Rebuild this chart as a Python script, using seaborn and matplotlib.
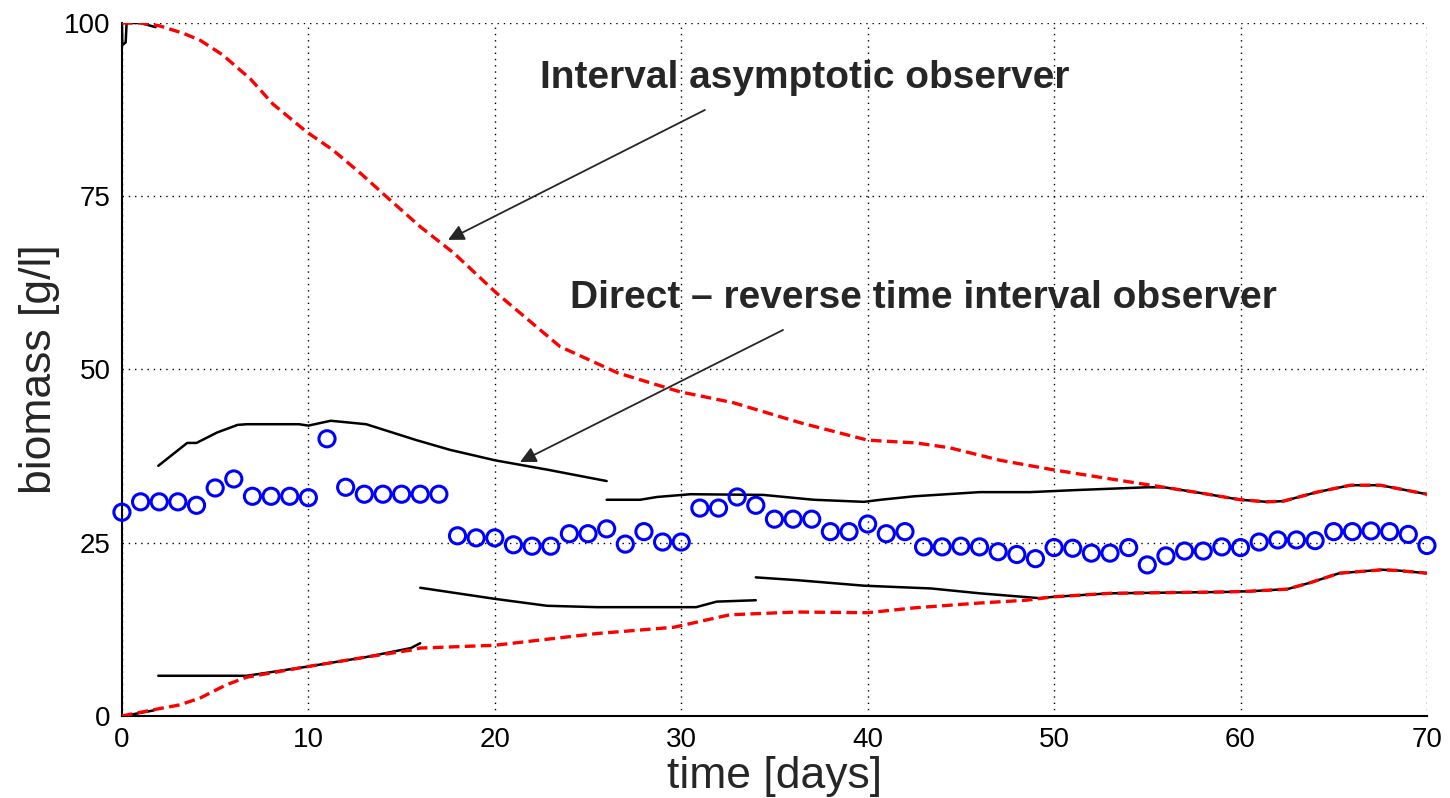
import numpy as np
import matplotlib
matplotlib.use('Agg')
import matplotlib.pyplot as plt
import seaborn as sns

# measured biomass (one sample per day)
days = np.arange(0, 71)
measured = [29.4, 30.9, 30.9, 30.9, 30.4, 32.9, 34.2, 31.7, 31.7, 31.7, 31.5,
            40.0, 33.0, 32.0, 32.0, 32.0, 32.0, 32.0, 26.0, 25.7, 25.7, 24.7,
            24.5, 24.5, 26.3, 26.3, 27.0, 24.8, 26.6, 25.1, 25.1, 30.0, 30.0,
            31.6, 30.4, 28.4, 28.4, 28.4, 26.6, 26.6, 27.7, 26.3, 26.6, 24.4,
            24.4, 24.5, 24.4, 23.7, 23.3, 22.7, 24.3, 24.2, 23.5, 23.5, 24.3,
            21.8, 23.1, 23.8, 23.8, 24.4, 24.3, 25.1, 25.4, 25.4, 25.3, 26.6,
            26.6, 26.7, 26.6, 26.2, 24.6]

# interval asymptotic observer (red dashed)
asym_up_t = [0, 1, 2, 3.3, 4.2, 5.4, 6.9, 8.1, 9.9, 11.3, 12.8, 14.2, 16.0, 17.8,
             20.1, 23.5, 26.6, 29.9, 32.8, 36.4, 40.0, 42.6, 44.4, 47.1, 50,
             52.8, 55.9, 57.8, 60, 61.4, 62.3, 64.1, 65.9, 67.5, 70]
asym_up = [100, 100, 99.6, 98.5, 97.5, 95.4, 91.9, 88.3, 84.3, 81.7, 78.3, 74.9,
           70.6, 66.8, 61.0, 53.3, 49.5, 46.8, 45.2, 42.3, 39.8, 39.4, 38.7,
           36.9, 35.5, 34.3, 33.0, 32.2, 31.2, 30.9, 31.0, 32.3, 33.3, 33.3, 32.0]
asym_lo_t = [0, 1.7, 3.1, 4.2, 5.6, 6.7, 9.9, 13.1, 15.5, 16, 20, 22.9, 25.5,
             29.6, 32.6, 36.2, 40.0, 42.5, 46.0, 48.5, 50, 53, 59.3, 60.5, 62.5,
             63.7, 65.3, 67.6, 68.4, 70]
asym_lo = [0, 0.9, 1.6, 2.6, 4.5, 5.6, 7.1, 8.5, 9.5, 9.8, 10.2, 11.1, 11.9, 12.8,
           14.6, 15.0, 14.9, 15.6, 16.3, 16.7, 17.2, 17.7, 17.9, 18.0, 18.3,
           19.2, 20.6, 21.1, 21.0, 20.6]

# direct - reverse time interval observer (black, piecewise)
dr_up = [
    ([0, 0.02, 0.2, 0.25, 1.0, 1.8], [100, 96.8, 97.2, 100, 100, 99.4]),
    ([1.95, 3.5, 4.0, 5.1, 6.2, 6.7, 9.5, 10, 11.2, 13.1, 15.8, 17.6, 20, 22.9, 26.0],
     [36.1, 39.4, 39.4, 40.9, 42.0, 42.1, 42.1, 41.9, 42.6, 42.1, 39.8, 38.4, 36.9, 35.5, 33.9]),
    ([26.0, 27.8, 28.7, 30.5, 34.4, 37.1, 39.8, 40.7, 42.5, 46.0, 48.7, 51.2, 55.0,
      55.9, 57.8, 60, 61.4, 62.3, 64.1, 65.9, 67.5, 70],
     [31.2, 31.2, 31.6, 32.0, 31.9, 31.2, 30.9, 31.2, 31.7, 32.3, 32.3, 32.6, 33.0,
      33.0, 32.2, 31.2, 30.9, 31.0, 32.3, 33.3, 33.3, 32.0]),
]
dr_lo = [
    ([0.5, 1.7], [0.2, 0.8]),
    ([1.95, 6.7, 9.9, 13.1, 15.5, 16.0], [5.8, 5.8, 7.1, 8.5, 9.8, 10.5]),
    ([16, 20, 22.8, 25.5, 30.8, 31.9, 34.0], [18.5, 16.9, 15.9, 15.7, 15.7, 16.5, 16.7]),
    ([34.0, 36.2, 39.8, 43.4, 46.0, 49.2, 50, 53, 59.3, 60.5, 62.5, 63.7, 65.3,
      67.6, 68.4, 70],
     [20.0, 19.6, 18.8, 18.4, 17.7, 17.0, 17.2, 17.7, 17.9, 18.0, 18.3, 19.2,
      20.6, 21.1, 21.0, 20.6]),
]

sns.set_style('white')
plt.rcParams['font.family'] = ['Liberation Sans', 'DejaVu Sans']

fig = plt.figure(figsize=(14.5, 7.98), dpi=100)
ax = fig.add_axes([0.0841, 0.1028, 0.9, 0.8684])

for t, v in dr_up + dr_lo:
    sns.lineplot(x=t, y=v, ax=ax, color='black', linewidth=1.8,
                 estimator=None, sort=False, zorder=3)

dash = (0, (3.2, 1.6))
sns.lineplot(x=asym_up_t, y=asym_up, ax=ax, color='red', linewidth=2.4,
             linestyle=dash, estimator=None, sort=False, zorder=4)
sns.lineplot(x=asym_lo_t, y=asym_lo, ax=ax, color='red', linewidth=2.4,
             linestyle=dash, estimator=None, sort=False, zorder=4)

sns.scatterplot(x=days, y=measured, ax=ax, marker='o', s=135,
                facecolor='none', edgecolor='#0000ff', linewidth=2.2,
                zorder=5, clip_on=False)

ax.set_xlim(0, 70)
ax.set_ylim(0, 100)
ax.set_xticks(range(0, 71, 10))
ax.set_yticks([0, 25, 50, 75, 100])
ax.set_axisbelow(True)
ax.grid(True, color='black', linestyle=(0, (1, 3.5)), linewidth=1.0)
for s in ['top', 'right']:
    ax.spines[s].set_visible(False)
for s in ['left', 'bottom']:
    ax.spines[s].set_color('black')
    ax.spines[s].set_linewidth(1.5)
ax.tick_params(direction='in', length=9, width=1.2, labelsize=20,
               colors='black', pad=8)

ax.set_xlabel('time [days]', fontsize=32, labelpad=2)
ax.set_ylabel('biomass [g/l]', fontsize=32, labelpad=3)

txt = dict(fontsize=28, fontweight='bold', color='#262626',
           ha='center', va='center')
arr = dict(arrowstyle='-|>', color='#262626', lw=1.3, mutation_scale=24,
           shrinkA=0, shrinkB=0)
ax.text(36.6, 92.1, 'Interval asymptotic observer', **txt)
ax.annotate('', xy=(17.49, 68.7), xytext=(31.27, 87.45), arrowprops=arr)
ax.text(42.97, 60.3, 'Direct \u2013 reverse time interval observer', **txt)
ax.annotate('', xy=(21.35, 36.65), xytext=(35.46, 55.7), arrowprops=arr)

fig.savefig('out.png', dpi=100)
